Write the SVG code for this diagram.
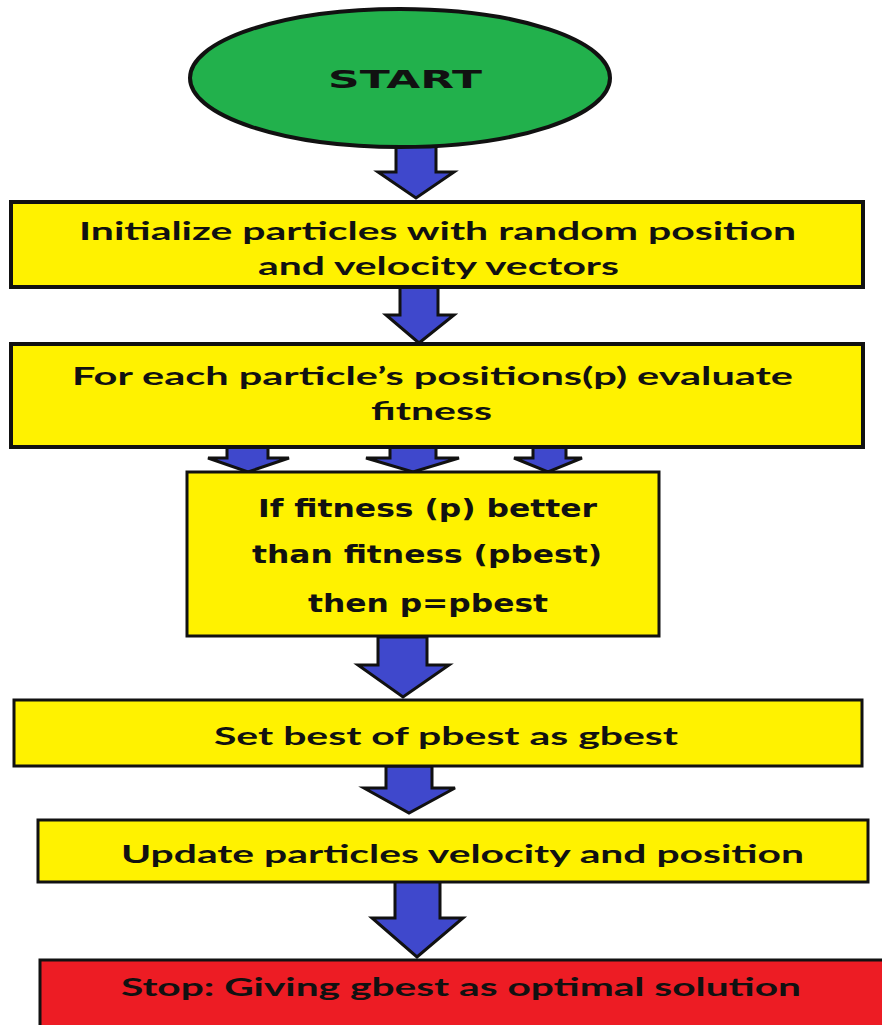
<svg xmlns="http://www.w3.org/2000/svg" width="882" height="1025" viewBox="0 0 882 1025">
<style>
.box{fill:#FFF200;stroke:#111;stroke-width:4}
.thin{stroke-width:3}
.arr{fill:#3F48CC;stroke:#111;stroke-width:3;stroke-linejoin:miter}
.t{font-family:Lato,"Open Sans","Liberation Sans",sans-serif;font-weight:bold;font-size:25px;fill:#111}
.v{font-family:"DejaVu Sans","Liberation Sans",sans-serif;font-weight:bold;font-size:24px;fill:#111}
</style>
<rect width="882" height="1025" fill="#fff"/>
<g id="connectors">
<polygon class="arr" points="396,146 436,146 436,172 454,172 416,198 378,172 396,172"/>
<polygon class="arr" points="400,287 438,287 438,315 454,315 419,343 386,315 400,315"/>
<polygon class="arr" points="227,447 268,447 268,458 289,458 248,472 208,458 227,458"/>
<polygon class="arr" points="390,447 436,447 436,458 459,458 413,472 366,458 390,458"/>
<polygon class="arr" points="533,447 566,447 566,458 582,458 548,472 514,458 533,458"/>
<polygon class="arr" points="378,637 427,637 427,665 449,665 403,697 358,665 378,665"/>
<polygon class="arr" points="386,766 432,766 432,788 455,788 409,813 364,788 386,788"/>
<polygon class="arr" points="395,880 440,880 440,918 463,918 417,957 372,918 395,918"/>
</g>
<g id="start">
<ellipse cx="400" cy="78" rx="210" ry="69" fill="#22B14C" stroke="#111" stroke-width="4"/>
<text class="v" x="328" y="88" font-size="32" textLength="154" lengthAdjust="spacingAndGlyphs">START</text>
</g>
<g id="init">
<rect class="box" x="11" y="202" width="852" height="85"/>
<text class="t" x="79" y="240" textLength="717" lengthAdjust="spacingAndGlyphs">Initialize particles with random position</text>
<text class="t" x="258" y="275" textLength="361" lengthAdjust="spacingAndGlyphs">and velocity vectors</text>
</g>
<g id="evaluate">
<rect class="box" x="11" y="344" width="852" height="103"/>
<text class="t" x="72" y="385" textLength="721" lengthAdjust="spacingAndGlyphs">For each particle’s positions(p) evaluate</text>
<text class="t" x="371" y="420" textLength="121" lengthAdjust="spacingAndGlyphs">fitness</text>
</g>
<g id="compare">
<rect class="box thin" x="187" y="472" width="472" height="164"/>
<text class="v" x="258" y="517" textLength="339" lengthAdjust="spacingAndGlyphs">If fitness (p) better</text>
<text class="v" x="252" y="563" textLength="350" lengthAdjust="spacingAndGlyphs">than fitness (pbest)</text>
<text class="v" x="308" y="612" textLength="240" lengthAdjust="spacingAndGlyphs">then p=pbest</text>
</g>
<g id="gbest">
<rect class="box thin" x="14" y="700" width="848" height="66"/>
<text class="t" x="214" y="745" textLength="464" lengthAdjust="spacingAndGlyphs">Set best of pbest as gbest</text>
</g>
<g id="update">
<rect class="box thin" x="38" y="820" width="830" height="62"/>
<text class="t" x="121" y="863" textLength="683" lengthAdjust="spacingAndGlyphs">Update particles velocity and position</text>
</g>
<g id="stop">
<rect x="40" y="960" width="860" height="80" fill="#ED1C24" stroke="#111" stroke-width="3"/>
<text class="t" x="121" y="996" textLength="680" lengthAdjust="spacingAndGlyphs">Stop: Giving gbest as optimal solution</text>
</g>
</svg>
